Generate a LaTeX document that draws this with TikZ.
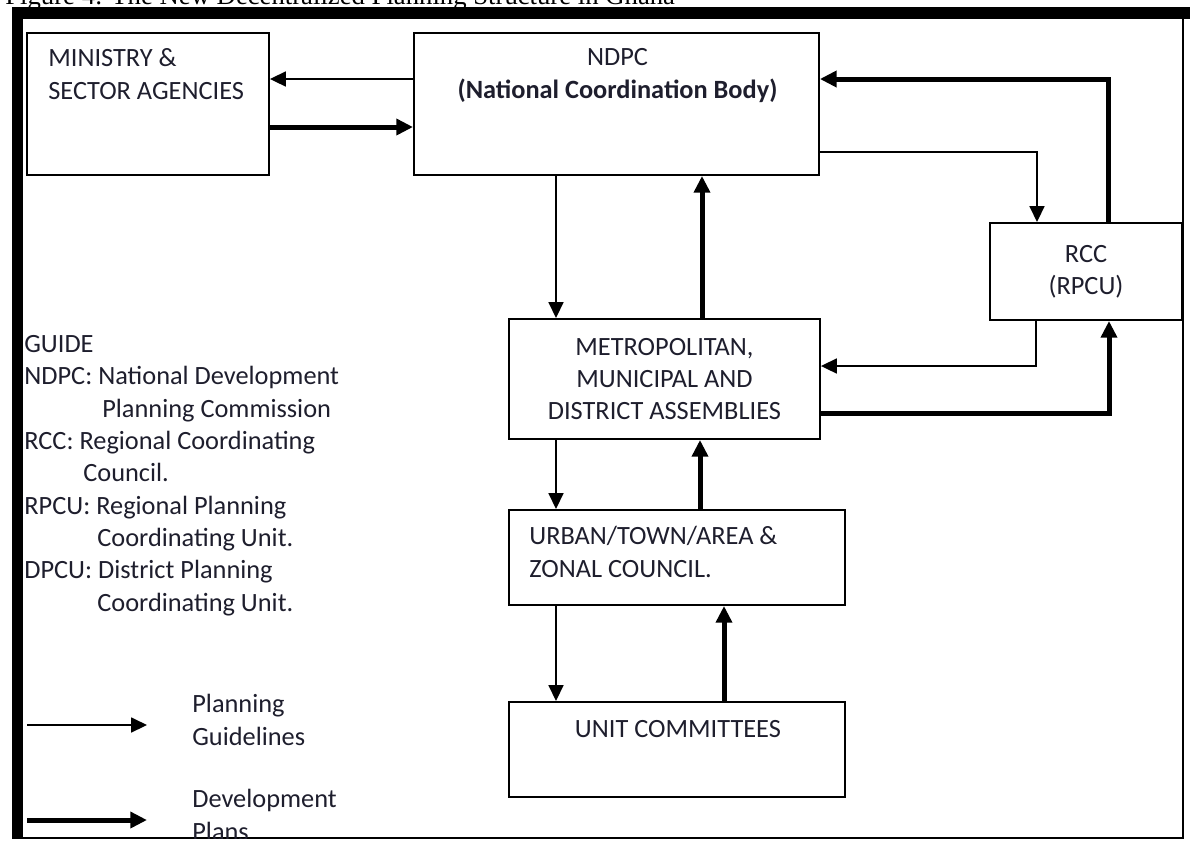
\documentclass[tikz,border=0pt]{standalone}
\usepackage{fontspec}
\setmainfont{Carlito}
\newfontfamily\capfont{Liberation Serif}
\usetikzlibrary{arrows.meta,calc}
\definecolor{ink}{RGB}{30,30,45}
\tikzset{
	box/.style={draw, line width=0.04cm, anchor=north west, inner sep=0pt},
	txt/.style={text=ink, inner sep=0pt, font=\fontsize{15}{18.4}\selectfont},
	guideline/.style={-{Triangle[length=9pt,width=8.5pt]}, line width=0.03cm},
	devplan/.style={-{Triangle[length=9.5pt,width=9pt]}, line width=0.1cm},
}
\begin{document}
\begin{tikzpicture}[x=0.02cm, y=-0.02cm]
		\useasboundingbox (0,0) rectangle (1190,840);
		\clip (0,0) rectangle (1190,840);
		% caption, cut by the frame
		\node[anchor=base west, inner sep=0pt, font=\capfont\fontsize{15.2}{18}\selectfont] (caption) at (5,4.5) {Figure 4: The New Decentralized Planning Structure in Ghana};
		\fill (12,7) rectangle (1190,19);
		\fill (12,7) rectangle (23,838);
		\draw[line width=0.03cm] (1183,19) -- (1183,838) -- (12,838);
		% boxes
		\node[box, minimum width=4.84cm, minimum height=2.84cm] (ministry) at (26,32) {};
		\node[box, minimum width=8.1cm, minimum height=2.84cm] (ndpc) at (413,32) {};
		\node[box, minimum width=3.84cm, minimum height=1.94cm] (rcc) at (989,222) {};
		\node[box, minimum width=6.22cm, minimum height=2.4cm] (metro) at (508,318) {};
		\node[box, minimum width=6.72cm, minimum height=1.9cm] (urban) at (508,509) {};
		\node[box, minimum width=6.72cm, minimum height=1.9cm] (unit) at (508,701) {};
		% base of the last line
		\node[txt, anchor=base west, align=left] (ministrytxt) at ($(ministry.north west)+(22,67)$) {MINISTRY \&\\SECTOR AGENCIES};
		\node[txt, anchor=base, align=center] (ndpctxt) at ($(ndpc.north)+(1,66)$) {NDPC\\\textbf{(National Coordination Body)}};
		\node[txt, align=center] (rcctxt) at (rcc.center) {RCC\\(RPCU)};
		\node[txt, align=center] (metrotxt) at (metro.center) {METROPOLITAN,\\MUNICIPAL AND\\DISTRICT ASSEMBLIES};
		\node[txt, anchor=base west, align=left] (urbantxt) at ($(urban.north west)+(21,68)$) {URBAN/TOWN/AREA \&\\ZONAL COUNCIL.};
		\node[txt, anchor=base] (unittxt) at ($(unit.north)+(1,36)$) {UNIT COMMITTEES};
		% planning guidelines
		\draw[guideline] ($(ndpc.north west)+(0,47)$) -- ($(ministry.north east)+(0,47)$);
		\draw[guideline] ($(ndpc.north east)+(0,120)$) -| ($(rcc.north west)+(48,0)$);
		\draw[guideline] ($(ndpc.south west)+(143,0)$) -- ($(metro.north west)+(48,0)$);
		\draw[guideline] ($(rcc.south west)+(47,0)$) |- ($(metro.north east)+(0,48)$);
		\draw[guideline] ($(metro.south west)+(48,0)$) -- ($(urban.north west)+(48,0)$);
		\draw[guideline] ($(urban.south west)+(48,0)$) -- ($(unit.north west)+(48,0)$);
		% development plans
		\draw[devplan] ($(ministry.north east)+(0,95)$) -- ($(ndpc.north west)+(0,95)$);
		\draw[devplan] ($(rcc.north west)+(119,0)$) |- ($(ndpc.north east)+(0,47)$);
		\draw[devplan] ($(metro.north west)+(194,0)$) -- ($(ndpc.south west)+(289,0)$);
		\draw[devplan] ($(metro.north east)+(0,95)$) -| ($(rcc.south west)+(120,0)$);
		\draw[devplan] ($(urban.north west)+(192,0)$) -- ($(metro.south west)+(192,0)$);
		\draw[devplan] ($(unit.north west)+(216,0)$) -- ($(urban.south west)+(216,0)$);
		% guide
		\begin{scope}
			\clip (23,19) rectangle (1183,838);
			\node[txt, anchor=base west, align=left] (guide) at (24,611) {GUIDE\\NDPC: National Development\\\hspace*{1.56cm}Planning Commission\\RCC: Regional Coordinating\\\hspace*{1.18cm}Council.\\RPCU: Regional Planning\\\hspace*{1.46cm}Coordinating Unit.\\DPCU: District Planning\\\hspace*{1.46cm}Coordinating Unit.};
			\coordinate (pgstart) at (27,725);
			\coordinate (pgend) at (147,725);
			\coordinate (dpstart) at (27,820);
			\coordinate (dpend) at (147,820);
			\draw[guideline] (pgstart) -- (pgend);
			\draw[devplan] (dpstart) -- (dpend);
			\node[txt, anchor=base west, align=left] (pglabel) at (192,745) {Planning\\Guidelines};
			\node[txt, anchor=base west, align=left] (dplabel) at (192,840) {Development\\Plans};
		\end{scope}
	\end{tikzpicture}
\end{document}
